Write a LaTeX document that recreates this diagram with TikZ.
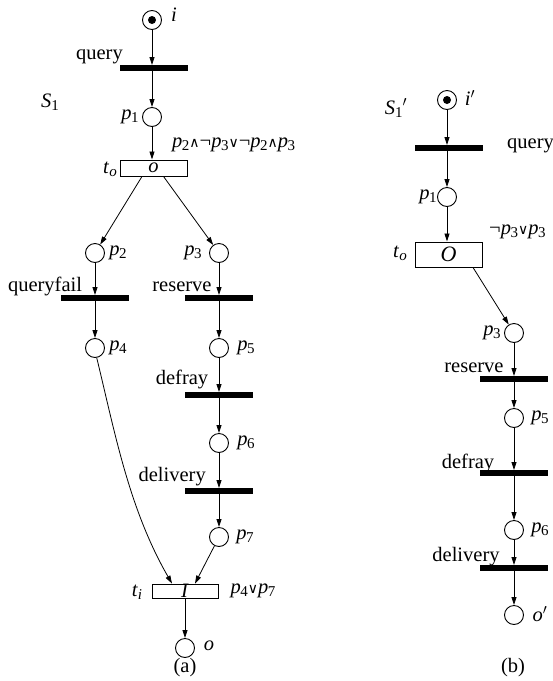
\documentclass[tikz,border=0pt]{standalone}
\usepackage{fontspec}
\setmainfont{Liberation Serif}
\newfontfamily\symfont{DejaVu Sans}
\usetikzlibrary{arrows.meta,calc}

% subscripted italic variables and logic symbols
\newcommand\subs[1]{\raisebox{-3pt}{\fontsize{15}{15}\selectfont #1}}
\newcommand\pv[1]{\textit{p}\kern-0.5pt\subs{#1}}
\newcommand\orsym{{\symfont\fontsize{14}{14}\selectfont ∨}}
\newcommand\andsym{{\symfont\fontsize{14}{14}\selectfont ∧}}

\tikzset{
  place/.style={circle,draw,line width=0.9pt,minimum size=19pt,inner sep=0pt},
  bar/.style={rectangle,fill=black,minimum width=68pt,minimum height=5.5pt,inner sep=0pt},
  tbox/.style={rectangle,draw,line width=0.9pt,minimum width=67pt,minimum height=16pt,inner sep=0pt},
  arc/.style={line width=0.8pt,-{Triangle[length=8pt,width=5pt]}},
  lbl/.style={inner sep=0pt}
}

\begin{document}
\begin{tikzpicture}[x=1pt,y=-1pt,font=\fontsize{20.5}{23}\selectfont]
\path[use as bounding box,clip] (0,0) rectangle (553,681);

% ---------------- net (a) ----------------
\node[place] (i) at (152,20) {};
\fill (i) circle (4pt);
\node[lbl] at (174,15) {\textit{i}};
\node[lbl] at (50,102) {\textit{S}\subs{1}};

\node[bar] (tq) at (154,68) {};
\node[lbl,anchor=east] at (123,57) {query};

\node[place] (p1) at (152,117) {};
\node[lbl] at (130,117) {\pv{1}};

\node[tbox] (to) at (153.5,168) {\textit{o}};
\node[lbl] at (110,169) {\textit{t}\subs{\textit{o}}};
\node[lbl,anchor=west] at (172,145) {\pv{2}\andsym¬\pv{3}\orsym¬\pv{2}\andsym\pv{3}};

\node[place] (p2) at (95,253) {};
\node[lbl] at (118,253) {\pv{2}};
\node[place] (p3) at (219,253) {};
\node[lbl] at (193,253) {\pv{3}};

\node[bar] (tqf) at (95,298) {};
\node[lbl] at (45,286) {queryfail};
\node[bar] (tres) at (219,298) {};
\node[lbl] at (182,287) {reserve};

\node[place] (p4) at (95,348) {};
\node[lbl] at (118,348) {\pv{4}};
\node[place] (p5) at (219,348) {};
\node[lbl] at (246,348) {\pv{5}};

\node[bar] (tdef) at (219,395) {};
\node[lbl] at (182,379) {defray};

\node[place] (p6) at (219,443) {};
\node[lbl] at (246,443) {\pv{6}};

\node[bar] (tdel) at (219,491) {};
\node[lbl,anchor=east] at (206,477) {delivery};

\node[place] (p7) at (219,537) {};
\node[lbl] at (245,537) {\pv{7}};

\node[tbox,minimum width=66pt,minimum height=14pt] (ti) at (185,591) {\textit{I}};
\node[lbl] at (137,592) {\textit{t}\subs{\textit{i}}};
\node[lbl] at (253,591) {\pv{4}\orsym\pv{7}};

\node[place] (o) at (185,648) {};
\node[lbl] at (209,646) {\textit{o}};
\node[lbl] at (185,668) {(a)};

\draw[arc] (i) -- (i |- tq.north);
\draw[arc] (p1 |- tq.south) -- (p1);
\draw[arc] (p1) -- (p1 |- to.north);
\draw[arc] ([xshift=-11.5pt]to.south) -- (p2);
\draw[arc] ([xshift=10pt]to.south) -- (p3);
\draw[arc] (p2) -- (p2 |- tqf.north);
\draw[arc] (p2 |- tqf.south) -- (p4);
\draw[arc] (p3) -- (p3 |- tres.north);
\draw[arc] (p3 |- tres.south) -- (p5);
\draw[arc] (p5) -- (p5 |- tdef.north);
\draw[arc] (p5 |- tdef.south) -- (p6);
\draw[arc] (p6) -- (p6 |- tdel.north);
\draw[arc] (p6 |- tdel.south) -- (p7);
\draw[arc] (p4.-80) .. controls (115,433) and (129,509) .. ([xshift=-13pt]ti.north);
\draw[arc] (p7) -- ([xshift=10pt]ti.north);
\draw[arc] (o |- ti.south) -- (o);

% ---------------- net (b) ----------------
\node[place] (ib) at (447,100) {};
\fill (ib) circle (4pt);
\node[lbl] at (470,98) {\textit{i}$'$};
\node[lbl] at (396,108) {\textit{S}\subs{1}$'$};

\node[bar] (tqb) at (449,148) {};
\node[lbl,anchor=west] at (507,146) {query};

\node[place] (p1b) at (447,197) {};
\node[lbl] at (428,197) {\pv{1}};

\node[tbox,minimum height=25pt] (tob) at (448.5,254.5) {\fontsize{22}{23}\selectfont\textit{O}};
\node[lbl] at (400,253) {\textit{t}\subs{\textit{o}}};
\node[lbl,anchor=west] at (489,232) {¬\pv{3}\orsym\pv{3}};

\node[place] (p3b) at (514,333) {};
\node[lbl] at (492,333) {\pv{3}};

\node[bar] (tresb) at (513.5,379) {};
\node[lbl] at (474,368) {reserve};

\node[place] (p5b) at (514,418) {};
\node[lbl] at (540,418) {\pv{5}};

\node[bar] (tdefb) at (513.5,473) {};
\node[lbl] at (468,463) {defray};

\node[place] (p6b) at (514,530) {};
\node[lbl] at (540,530) {\pv{6}};

\node[bar] (tdelb) at (513.5,568) {};
\node[lbl] at (466,557) {delivery};

\node[place] (ob) at (514,615) {};
\node[lbl] at (540,614) {\textit{o}$'$};
\node[lbl] at (513,668) {(b)};

\draw[arc] (ib) -- (ib |- tqb.north);
\draw[arc] (p1b |- tqb.south) -- (p1b);
\draw[arc] (p1b) -- (p1b |- tob.north);
\draw[arc] ([xshift=24.5pt]tob.south) -- (p3b);
\draw[arc] (p3b) -- (p3b |- tresb.north);
\draw[arc] (p3b |- tresb.south) -- (p5b);
\draw[arc] (p5b) -- (p5b |- tdefb.north);
\draw[arc] (p5b |- tdefb.south) -- (p6b);
\draw[arc] (p6b) -- (p6b |- tdelb.north);
\draw[arc] (p6b |- tdelb.south) -- (ob);
\end{tikzpicture}
\end{document}
